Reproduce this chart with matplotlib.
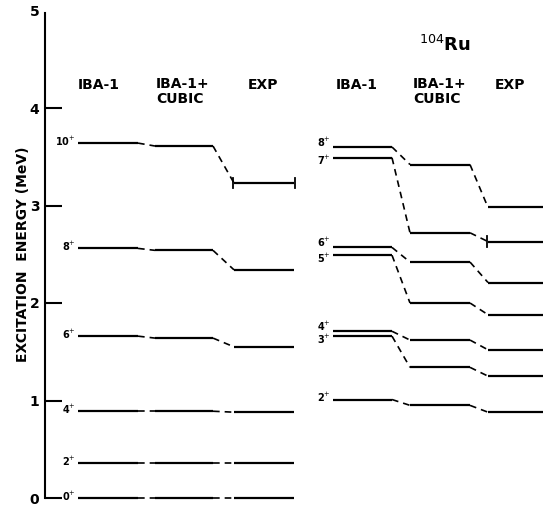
import matplotlib
matplotlib.use('Agg')
from matplotlib import pyplot as plt

# ground band (left panel)
g_spins = ['0', '2', '4', '6', '8', '10']
g_iba = [0.0, 0.36, 0.89, 1.66, 2.56, 3.64]
g_cubic = [0.0, 0.36, 0.89, 1.64, 2.54, 3.61]
g_exp = [0.0, 0.36, 0.88, 1.55, 2.34, 3.23]

# gamma band (right panel)
r_spins = ['2', '3', '4', '5', '6', '7', '8']
r_iba = [1.01, 1.66, 1.71, 2.49, 2.57, 3.49, 3.60]
r_cubic = [0.95, 1.34, 1.62, 2.00, 2.42, 2.72, 3.42]
r_exp = [0.88, 1.25, 1.52, 1.88, 2.21, 2.63, 2.98]

headers = ['IBA-1', 'IBA-1+\nCUBIC', 'EXP']
nucleus = r'$^{104}$Ru'

W, H = 543, 508
fig = plt.figure(figsize=(W / 100, H / 100), dpi=100)
x0, y0 = 45, 10
ax = fig.add_axes([x0 / W, y0 / H, (W - x0) / W, 487.5 / H])
ax.set_xlim(x0, W)
ax.set_ylim(0, 5)
for s in ['top', 'right', 'bottom']:
    ax.spines[s].set_visible(False)
ax.spines['left'].set_linewidth(1.5)
ax.spines['left'].set_bounds(0, 4.97)
ax.set_xticks([])
ax.set_yticks([0, 1, 2, 3, 4, 5])
ax.tick_params(axis='y', direction='in', length=12, width=1.5, pad=4,
               labelsize=10)
for lab in ax.get_yticklabels():
    lab.set_fontweight('bold')
ax.yaxis.get_major_ticks()[-1].tick1line.set_visible(False)
ax.set_ylabel('EXCITATION  ENERGY (MeV)', fontsize=10, fontweight='bold',
              labelpad=0)

LW = 1.6
DASH = dict(color='black', lw=1.2, ls=(0, (4, 3)), clip_on=False)


def panel(cols, spins, vals, lab_x):
    # cols: list of (start, end) for IBA-1, cubic, exp
    for k, (a, b) in enumerate(cols):
        for v in vals[k]:
            ax.plot([a, b], [v, v], color='black', lw=LW,
                    solid_capstyle='butt', clip_on=False)
    for k in range(len(cols) - 1):
        for v1, v2 in zip(vals[k], vals[k + 1]):
            ax.plot([cols[k][1], cols[k + 1][0]], [v1, v2], **DASH)
    first = vals[0]
    for i, (s, v) in enumerate(zip(spins, first)):
        # nudge labels of close-lying levels apart
        dy = 0.02
        if i + 1 < len(first) and first[i + 1] - v < 0.15:
            dy = -0.03
        elif i > 0 and v - first[i - 1] < 0.15:
            dy = 0.05
        ax.text(lab_x, v + dy, s + r'$^{+}$', ha='right', va='center',
                fontsize=7, fontweight='bold')


left_cols = [(78, 138), (155, 213), (234, 294)]
right_cols = [(333, 392), (410, 470), (488, 560)]

panel(left_cols, g_spins, [g_iba, g_cubic, g_exp], 76)
panel(right_cols, r_spins, [r_iba, r_cubic, r_exp], 331)

# tentative level marks
ax.plot([233, 233], [g_exp[-1] - 0.05, g_exp[-1] + 0.05], color='black', lw=1.3)
ax.plot([295, 295], [g_exp[-1] - 0.05, g_exp[-1] + 0.05], color='black', lw=1.3)
ax.plot([487, 487], [r_exp[5] - 0.06, r_exp[5] + 0.06], color='black', lw=1.3)

# column headers
hy = 4.24
ax.text(99, hy, headers[0], ha='center', va='center', fontsize=10, fontweight='bold')
ax.text(156, hy + 0.08, headers[1], ha='left', va='top', fontsize=10, fontweight='bold',
        linespacing=1.1)
ax.text(263, hy, headers[2], ha='center', va='center', fontsize=10, fontweight='bold')
ax.text(357, hy, headers[0], ha='center', va='center', fontsize=10, fontweight='bold')
ax.text(413, hy + 0.08, headers[1], ha='left', va='top', fontsize=10, fontweight='bold',
        linespacing=1.1)
ax.text(510, hy, headers[2], ha='center', va='center', fontsize=10, fontweight='bold')
ax.text(445, 4.65, nucleus, ha='center', va='center', fontsize=13, fontweight='bold')

fig.savefig('out.png', dpi=100)
